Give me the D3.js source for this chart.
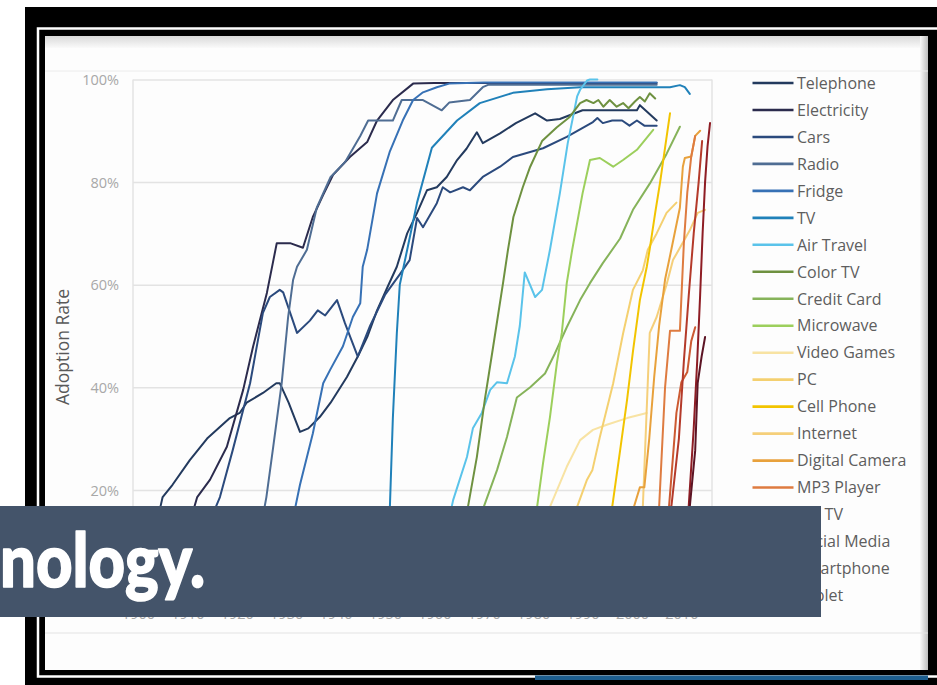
<!DOCTYPE html>
<html>
<head>
<meta charset="utf-8">
<script src="https://cdn.jsdelivr.net/npm/d3@7"></script>
<style>
  html, body { margin: 0; padding: 0; background: #ffffff; }
  svg { display: block; }
</style>
</head>
<body>
<svg id="chart" width="937" height="685"></svg>
<script>
// ---- Series (US household adoption, % of households) ----
const seriesNames = ["Telephone", "Electricity", "Cars", "Radio", "Fridge", "TV", "Air Travel",
  "Color TV", "Credit Card", "Microwave", "Video Games", "PC", "Cell Phone", "Internet",
  "Digital Camera", "MP3 Player", "HD TV", "Social Media", "Smartphone", "Tablet"];

const seriesColors = ["#233a5e", "#2b2b4d", "#2b4a7d", "#4f6d93", "#3771b5", "#2081b9", "#5ac3ea",
  "#6e9140", "#86b35a", "#9ccf5c", "#f8e3a3", "#f4d070", "#f2c400", "#f5cf7a",
  "#e8a13c", "#de7b40", "#cc5a32", "#b43a2a", "#8e1d24", "#5c1424"];

const telephoneYears = [1900, 1902, 1904.5, 1905, 1907, 1910.5, 1914, 1918.6, 1920.6, 1922, 1925.3, 1928, 1928.7, 1930.5, 1932.8, 1934.5, 1936.8, 1939, 1942.3, 1944.5, 1946.5, 1948.4, 1950.5, 1952.4, 1954.5, 1956.5, 1958.5, 1960.5, 1962.5, 1964.6, 1966.5, 1968.6, 1969.8, 1973.3, 1976.5, 1980.4, 1982.8, 1985.4, 1990, 1995, 2001, 2001.6, 2005];
const telephoneRates = [9, 12, 16.5, 18.6, 21, 25.8, 30, 34, 35, 37, 38.9, 40.8, 40.8, 37, 31.3, 32, 34.2, 37, 42, 46, 50, 55, 59.5, 63.5, 70, 74, 78.4, 79, 81, 84.3, 86.5, 89.7, 87.6, 89.5, 91.5, 93.4, 92, 92.3, 94, 94, 94, 95, 92];

const electricityYears = [1907, 1910, 1912, 1914.6, 1918, 1921.3, 1923.3, 1926.1, 1927.3, 1928.1, 1930.8, 1933.4, 1935.4, 1937.5, 1939.5, 1942.9, 1946.4, 1948.4, 1951.6, 1955.7, 1960, 1970, 1980, 1990, 2000, 2005];
const electricityRates = [6, 12, 18.6, 22, 28.4, 39.5, 47.9, 58.4, 64.2, 68.1, 68.1, 67.2, 73.2, 77.5, 81.4, 84.9, 87.8, 92, 96, 99.2, 99.3, 99.3, 99.3, 99.3, 99.3, 99.3];

const carsYears = [1908, 1912, 1916.6, 1919.2, 1922.7, 1925.3, 1926.7, 1928.7, 1929.4, 1932.2, 1934.8, 1936.4, 1937.9, 1940.3, 1941.9, 1944.5, 1947, 1950, 1953, 1955, 1956.5, 1957.7, 1960.5, 1961.7, 1963.2, 1965.8, 1967.2, 1969.8, 1973.3, 1975.9, 1982, 1986.8, 1992.1, 1993, 1994.1, 1996, 1998, 1999.5, 2001, 2002.5, 2005];
const carsRates = [2, 8, 18.6, 27.8, 40.8, 54.5, 57.6, 59, 58.5, 50.6, 53, 55, 54, 57, 52.5, 46, 52, 58, 62, 64.8, 73, 71.2, 75.9, 79, 78, 79, 78.4, 81, 83, 84.9, 86.6, 88.8, 91.7, 92.5, 91.5, 92, 92, 91, 92, 91, 91];

const radioYears = [1922, 1924, 1926, 1927.3, 1929.1, 1930.4, 1931.4, 1932.2, 1934.2, 1936.2, 1939, 1942, 1945, 1946.6, 1949, 1951.6, 1953.4, 1957.7, 1961.5, 1963, 1967.2, 1969.8, 1971, 1980, 1990, 2000, 2005];
const radioRates = [2, 8, 18.6, 27.8, 40.8, 53.7, 60.9, 63.5, 66.8, 75, 81, 84, 89, 92, 92, 92, 96, 96, 94, 95.5, 96, 98.5, 99, 99, 99, 99, 99];

const fridgeYears = [1925, 1930, 1932.8, 1935.4, 1937.5, 1938.9, 1941.5, 1943.5, 1945, 1945.5, 1946.4, 1948.4, 1951, 1953.6, 1955.7, 1957.7, 1960.5, 1963, 1970, 1980, 1990, 2000, 2005];
const fridgeRates = [1, 8, 21, 31, 40.8, 43.4, 48, 53.7, 56.4, 63.5, 66.8, 77.8, 86, 92, 96, 97.5, 98.5, 99.2, 99.4, 99.4, 99.4, 99.4, 99.4];

const tvYears = [1948, 1950, 1951, 1951.6, 1952.4, 1953, 1954.5, 1956.5, 1959.5, 1964.6, 1969.2, 1975.9, 1982.8, 1989.5, 2000, 2007.7, 2009.7, 2010.7, 2011.7];
const tvRates = [1, 5, 16.7, 34, 50.5, 60, 66.8, 76, 86.7, 92, 95.4, 97.4, 98.1, 98.5, 98.5, 98.5, 98.9, 98.5, 97.2];

const airTravelYears = [1960, 1962, 1963.8, 1966.6, 1967.8, 1969.6, 1971.3, 1972.7, 1974.7, 1976.3, 1977.3, 1978.3, 1980.4, 1981.8, 1983.4, 1985.4, 1987, 1988.9, 1989.5, 1990.9, 1991.5, 1993];
const airTravelRates = [4, 10, 18, 26.4, 32, 35, 39.5, 41, 40.8, 46, 52, 62.4, 57.6, 59, 66.8, 77.8, 87.6, 96.7, 98, 99.8, 100, 100];

const colorTvYears = [1962, 1964.5, 1966.8, 1968.6, 1970.2, 1971.9, 1973.9, 1974.9, 1976, 1977.9, 1979.4, 1981.8, 1984.8, 1987.4, 1989.5, 1990.8, 1992.2, 1993.2, 1994.2, 1995.5, 1996.9, 1998.2, 1999.3, 2000.6, 2001.6, 2002.6, 2003.6, 2004.7];
const colorTvRates = [1, 8, 16.7, 26.4, 37.5, 47.9, 60.3, 66.8, 73.2, 79, 83, 88, 90.7, 92.7, 95.4, 96, 95.4, 96, 94.7, 96, 94.7, 95.4, 94.4, 95.7, 96.6, 95.7, 97.3, 96.3];

const creditCardYears = [1965, 1968, 1970, 1972.7, 1974.7, 1976.7, 1979.4, 1982.4, 1984.4, 1986.8, 1989.5, 1991.5, 1994.1, 1997.6, 2000.2, 2003.6, 2007, 2009.7];
const creditCardRates = [3, 10, 16.7, 23.9, 30.3, 38, 40, 42.7, 46.6, 51.7, 57, 60.3, 64.2, 69, 74.6, 79.7, 85.5, 90.8];

const microwaveYears = [1976, 1978.5, 1980.8, 1982, 1983.4, 1984.8, 1985.8, 1986.8, 1987.9, 1990, 1991.5, 1993.5, 1996.2, 1998.2, 2001, 2004.3];
const microwaveRates = [2, 8, 16.7, 25.2, 34.2, 44.7, 50.6, 60.3, 66.8, 77.8, 84.3, 84.7, 83, 84.3, 86.3, 90.2];

const videoGamesYears = [1980, 1983.4, 1986.8, 1989.5, 1992.1, 1994.9, 1999, 2003];
const videoGamesRates = [5, 16.7, 24.5, 29.7, 31.7, 32.7, 34, 35];

const pcYears = [1982, 1985, 1988.9, 1990.9, 1992, 1993.5, 1996.2, 1998.2, 2000.2, 2002.2, 2003.2, 2005, 2007, 2009];
const pcRates = [3, 9, 16.7, 22, 23.9, 30.3, 40.8, 50.5, 59, 62.8, 66.8, 70, 74, 76];

const cellPhoneYears = [1992, 1994, 1996, 1997.6, 1999, 2000.2, 2001.6, 2003, 2003.6, 2004.7, 2005.7, 2006.7, 2007.7];
const cellPhoneRates = [2, 8, 16.7, 27.7, 37.5, 47, 57, 63.5, 67, 74, 80, 86.7, 93.4];

const internetYears = [1995, 1998, 2000.5, 2002.2, 2003.6, 2005, 2007, 2008.3, 2009, 2011.7, 2013.3, 2014.8];
const internetRates = [2, 8, 13, 16.7, 50.6, 53.7, 60, 64.8, 66, 70.6, 74, 74.6];

const digitalCameraYears = [1997, 1999, 2000.4, 2001.6, 2002.5, 2003.5, 2004.5, 2005.5, 2006.7, 2008, 2009.7, 2010.3, 2010.7, 2012, 2012.8, 2013.8];
const digitalCameraRates = [2, 10, 16.7, 20.5, 20.5, 30, 42, 52, 61, 67, 75, 83, 84.7, 85, 89, 90];

const mp3Years = [2002, 2004, 2005.5, 2006.7, 2007.7, 2009.7, 2010.5, 2011.2, 2012, 2012.8];
const mp3Rates = [2, 8, 16.7, 40, 51, 51, 68, 78, 85, 89];

const hdTvYears = [2003, 2005.5, 2007.5, 2009, 2010, 2011.2, 2012, 2012.8];
const hdTvRates = [2, 8, 16.7, 35, 41, 43, 49, 51.7];

const socialMediaYears = [2004, 2006, 2008, 2009.5, 2010.5, 2011.5, 2012.5, 2013.5, 2014.2];
const socialMediaRates = [2, 8, 17, 30, 45, 58, 70, 80, 88];

const smartphoneYears = [2008, 2010, 2011.5, 2012.5, 2013.2, 2013.8, 2014.3, 2014.8, 2015.3, 2015.8];
const smartphoneRates = [2, 8, 17, 32, 45, 58, 70, 80, 87, 91.5];

const tabletYears = [2009.5, 2010.7, 2011.7, 2012.8, 2013.3, 2014.1, 2014.8];
const tabletRates = [1, 6, 16.7, 27.7, 40.8, 46, 49.8];

const seriesYears = [telephoneYears, electricityYears, carsYears, radioYears, fridgeYears, tvYears,
  airTravelYears, colorTvYears, creditCardYears, microwaveYears, videoGamesYears, pcYears,
  cellPhoneYears, internetYears, digitalCameraYears, mp3Years, hdTvYears, socialMediaYears,
  smartphoneYears, tabletYears];
const seriesRates = [telephoneRates, electricityRates, carsRates, radioRates, fridgeRates, tvRates,
  airTravelRates, colorTvRates, creditCardRates, microwaveRates, videoGamesRates, pcRates,
  cellPhoneRates, internetRates, digitalCameraRates, mp3Rates, hdTvRates, socialMediaRates,
  smartphoneRates, tabletRates];

const gridTicks = [0, 20, 40, 60, 80, 100];
const yTickLabels = [20, 40, 60, 80, 100];
const xTicks = [1900, 1910, 1920, 1930, 1940, 1950, 1960, 1970, 1980, 1990, 2000, 2010];
const axisTitle = "Adoption Rate";
const bannerText = "nology.";

// ---- Layout ----
const svg = d3.select("#chart");
const plot = { left: 133, right: 712, top: 79.5, bottom: 592.5 };

const x = d3.scaleLinear().domain([1899, 2016.2]).range([plot.left, plot.right]);
const y = d3.scaleLinear().domain([0, 100]).range([plot.bottom, plot.top]);

// ---- Slide frame ----
svg.append("rect").attr("x", 0).attr("y", 0).attr("width", 937).attr("height", 685).attr("fill", "#ffffff");
svg.append("rect").attr("x", 25).attr("y", 7).attr("width", 912).attr("height", 678).attr("fill", "#000000");
svg.append("rect").attr("x", 38).attr("y", 28.5).attr("width", 920).attr("height", 648)
  .attr("fill", "none").attr("stroke", "#ffffff").attr("stroke-width", 2.5);

const defs = svg.append("defs");
const topShade = defs.append("linearGradient").attr("id", "topShade")
  .attr("x1", 0).attr("y1", 0).attr("x2", 0).attr("y2", 1);
topShade.append("stop").attr("offset", "0%").attr("stop-color", "#d9d9d9");
topShade.append("stop").attr("offset", "100%").attr("stop-color", "#fafafa");
const rightShade = defs.append("linearGradient").attr("id", "rightShade")
  .attr("x1", 0).attr("y1", 0).attr("x2", 1).attr("y2", 0);
rightShade.append("stop").attr("offset", "0%").attr("stop-color", "#fafafa");
rightShade.append("stop").attr("offset", "100%").attr("stop-color", "#bdbdbd");

svg.append("rect").attr("x", 45).attr("y", 36).attr("width", 883).attr("height", 634).attr("fill", "#fdfdfd");
svg.append("rect").attr("x", 45).attr("y", 36).attr("width", 883).attr("height", 12).attr("fill", "url(#topShade)");
svg.append("rect").attr("x", 920).attr("y", 36).attr("width", 8).attr("height", 634).attr("fill", "url(#rightShade)");
svg.append("line").attr("x1", 45).attr("x2", 928).attr("y1", 71).attr("y2", 71)
  .attr("stroke", "#ececec").attr("stroke-width", 1);
svg.append("line").attr("x1", 45).attr("x2", 928).attr("y1", 633).attr("y2", 633)
  .attr("stroke", "#e4e4e4").attr("stroke-width", 1.2);
svg.append("rect").attr("x", 535).attr("y", 675.5).attr("width", 393).attr("height", 4.5).attr("fill", "#1d5e8f");

// ---- Grid and axes ----
const grid = svg.append("g")
  .attr("transform", `translate(${plot.left},0)`)
  .call(d3.axisLeft(y).tickValues(gridTicks).tickSize(-(plot.right - plot.left)).tickFormat(""));
grid.select(".domain").remove();
grid.selectAll(".tick line").attr("stroke", "#e3e3e3").attr("stroke-width", 1.5);

svg.append("line").attr("x1", plot.left).attr("x2", plot.left).attr("y1", plot.top).attr("y2", plot.bottom)
  .attr("stroke", "#e3e3e3").attr("stroke-width", 1.5);
svg.append("line").attr("x1", plot.right).attr("x2", plot.right).attr("y1", plot.top).attr("y2", plot.bottom)
  .attr("stroke", "#e3e3e3").attr("stroke-width", 1.5);

const yAxis = svg.append("g")
  .attr("transform", `translate(119,0)`)
  .call(d3.axisLeft(y).tickValues(yTickLabels).tickSize(0).tickPadding(0).tickFormat(d => d + "%"));
yAxis.select(".domain").remove();
yAxis.selectAll("text")
  .attr("font-family", "'Open Sans', sans-serif").attr("font-size", 14.5)
  .attr("fill", "#a8a8a8").attr("dy", "0.36em");

const xAxis = svg.append("g")
  .attr("transform", `translate(0,606)`)
  .call(d3.axisBottom(x).tickValues(xTicks).tickSize(0).tickPadding(3).tickFormat(d3.format("d")));
xAxis.select(".domain").remove();
xAxis.selectAll("text")
  .attr("font-family", "'Open Sans', sans-serif").attr("font-size", 14.5)
  .attr("fill", "#a8a8a8");

svg.append("text")
  .attr("transform", `translate(69,347) rotate(-90)`)
  .attr("text-anchor", "middle")
  .attr("font-family", "'Open Sans', sans-serif").attr("font-size", 17.5)
  .attr("fill", "#595959")
  .text(axisTitle);

// ---- Lines ----
const line = d3.line().x(d => x(d[0])).y(d => y(d[1]));
const lines = svg.append("g").attr("fill", "none").attr("stroke-width", 2)
  .attr("stroke-linejoin", "round").attr("stroke-linecap", "round");
seriesNames.forEach((name, i) => {
  const pts = seriesYears[i].map((yr, k) => [yr, seriesRates[i][k]]);
  lines.append("path").datum(pts).attr("d", line).attr("stroke", seriesColors[i]);
});

// ---- Legend ----
const legend = svg.append("g").attr("transform", "translate(752.5,83)");
seriesNames.forEach((name, i) => {
  const row = legend.append("g").attr("transform", `translate(0,${i * 26.97})`);
  row.append("line").attr("x1", 0).attr("x2", 41).attr("y1", 0).attr("y2", 0)
    .attr("stroke", seriesColors[i]).attr("stroke-width", 2.6);
  row.append("text").attr("x", 44.5).attr("dy", "0.36em")
    .attr("font-family", "'Open Sans', sans-serif").attr("font-size", 16)
    .attr("fill", "#5e5e5e").text(name);
});

// ---- Title banner ----
svg.append("rect").attr("x", 0).attr("y", 506).attr("width", 821).attr("height", 111).attr("fill", "#44546a");
svg.append("text")
  .attr("x", 0).attr("y", 587)
  .attr("font-family", "Lato, 'Open Sans', sans-serif").attr("font-weight", 900).attr("font-size", 74)
  .attr("fill", "#ffffff").attr("stroke", "#ffffff").attr("stroke-width", 1.6)
  .attr("stroke-linejoin", "round")
  .attr("textLength", 205).attr("lengthAdjust", "spacingAndGlyphs")
  .text(bannerText);
</script>
</body>
</html>
